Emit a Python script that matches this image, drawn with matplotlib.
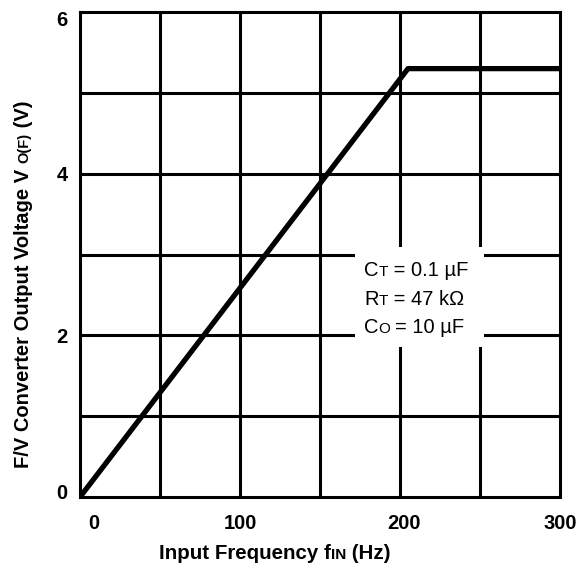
import matplotlib
matplotlib.use("Agg")
import matplotlib.pyplot as plt
import matplotlib.transforms as mtransforms

plt.rcParams['font.family'] = ['Liberation Sans', 'DejaVu Sans']

# data
freq = [0, 205, 300]
vout = [0, 5.3, 5.3]

x_ticks = [0, 100, 200, 300]
y_ticks = [0, 2, 4, 6]
x_grid = [50, 100, 150, 200, 250]
y_grid = [1, 2, 3, 4, 5]

fig = plt.figure(figsize=(5.87, 5.73), dpi=100)
ax = fig.add_axes([0.1363, 0.1326, 0.8177, 0.8464])

ax.set_xlim(0, 300)
ax.set_ylim(0, 6)

for gx in x_grid:
    ax.axvline(gx, color='black', lw=2.2, zorder=1)
for gy in y_grid:
    ax.axhline(gy, color='black', lw=2.2, zorder=1)

ax.plot(freq, vout, color='black', lw=3.8, solid_capstyle='butt', zorder=3)

for sp in ax.spines.values():
    sp.set_linewidth(2.2)

ax.set_xticks(x_ticks)
ax.set_yticks(y_ticks)
ax.set_xticklabels([str(v) for v in x_ticks], fontsize=14.5, fontweight='bold')
ax.set_yticklabels([str(v) for v in y_ticks], fontsize=14.5, fontweight='bold')
ax.tick_params(axis='x', length=0, pad=12)
ax.tick_params(axis='y', length=0, pad=9)

# nudge some labels like the original
def nudge(lab, dx, dy):
    lab.set_transform(lab.get_transform() + mtransforms.ScaledTranslation(dx, dy, fig.dpi_scale_trans))

nudge(ax.get_xticklabels()[0], 0.14, 0)
nudge(ax.get_xticklabels()[2], 0.04, 0)
nudge(ax.get_yticklabels()[0], 0, 0.06)
nudge(ax.get_yticklabels()[-1], 0, -0.06)


def chain(parts, x, y, coords, rot=0, weight='normal', zorder=5):
    prev = None
    for s, size in parts:
        if prev is None:
            xy, xyc = (x, y), coords
        elif rot == 0:
            xy, xyc = (1, y), (prev, coords)
        else:
            xy, xyc = (x, 1), (coords, prev)
        prev = ax.annotate(s, xy=xy, xycoords=xyc, fontsize=size, fontweight=weight,
                           ha='left', va='baseline', rotation=rot,
                           rotation_mode='anchor', annotation_clip=False, zorder=zorder)
    return prev


# white box for the component values
ax.add_patch(plt.Rectangle((172, 1.86), 80.5, 1.23, facecolor='white',
                           edgecolor='none', zorder=2))
chain([("C", 14.5), ("T", 11), (" = 0.1 µF", 14.5)], 177.5, 2.735, 'data')
chain([("R", 14.5), ("T", 11), (" = 47 kΩ", 14.5)], 177.5, 2.376, 'data')
chain([("C", 14.5), ("O ", 11), ("= 10 µF", 14.5)], 177.5, 2.03, 'data')

# axis labels with small-caps style subscripts
chain([("Input Frequency f", 14.8), ("IN", 11), (" (Hz)", 14.8)],
      0.271, 0.024, 'figure fraction', weight='bold')
chain([("F/V Converter Output Voltage V ", 14.5), ("O(F)", 10.5), (" (V)", 14.5)],
      0.049, 0.183, 'figure fraction', rot=90, weight='bold')

fig.savefig("out.png", dpi=100)
